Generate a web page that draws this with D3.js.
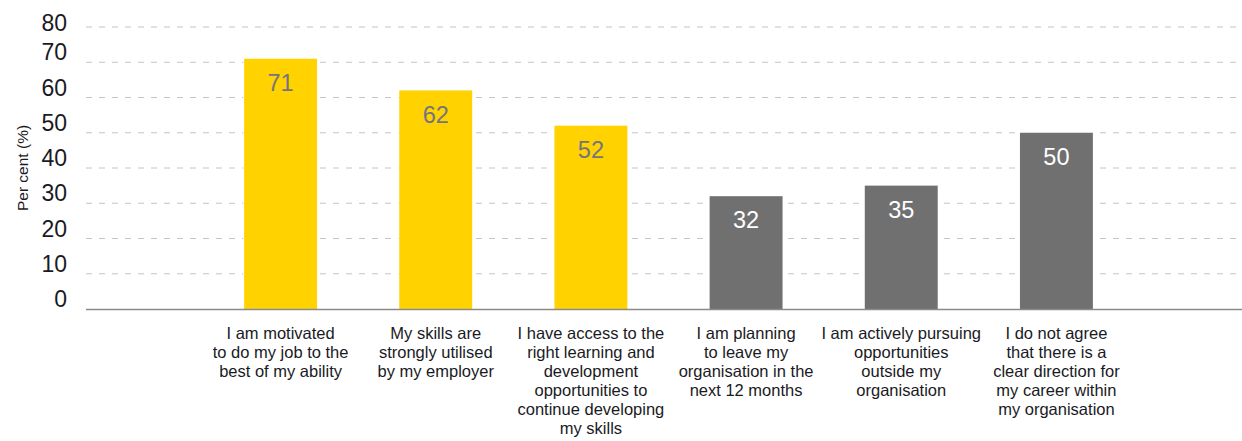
<!DOCTYPE html>
<html>
<head>
<meta charset="utf-8">
<script src="https://cdn.jsdelivr.net/npm/d3@7"></script>
<style>
  html, body { margin: 0; padding: 0; background: #fff; }
  svg { display: block; font-family: "Liberation Sans", Arial, sans-serif; }
</style>
</head>
<body>
<svg id="chart" width="1242" height="441"></svg>
<script>
// Survey statements (x axis), wrapped into display lines
const categories = [
  ["I am motivated", "to do my job to the", "best of my ability"],
  ["My skills are", "strongly utilised", "by my employer"],
  ["I have access to the", "right learning and", "development", "opportunities to", "continue developing", "my skills"],
  ["I am planning", "to leave my", "organisation in the", "next 12 months"],
  ["I am actively pursuing", "opportunities", "outside my", "organisation"],
  ["I do not agree", "that there is a", "clear direction for", "my career within", "my organisation"]
];
// Share of respondents agreeing, per cent
const values = [71, 62, 52, 32, 35, 50];
// Positive statements in yellow, negative in grey
const groups = ["positive", "positive", "positive", "negative", "negative", "negative"];
const yTicks = [0, 10, 20, 30, 40, 50, 60, 70, 80];
const yTitle = "Per cent (%)";

const svg = d3.select("#chart");
const W = 1242;
const left = 86, gridRight = 1236;
const yTop = 27, yBase = 309;

const fill = d3.scaleOrdinal().domain(["positive", "negative"]).range(["#FFD200", "#707071"]);
const labelFill = d3.scaleOrdinal().domain(["positive", "negative"]).range(["#747480", "#ffffff"]);

const y = d3.scaleLinear().domain([0, 80]).range([yBase, yTop]);
const x = d3.scaleBand()
  .domain(d3.range(categories.length))
  .range([203, 1134])
  .paddingInner(0.53)
  .paddingOuter(0.265);

// Dashed gridlines
svg.append("g")
  .selectAll("line")
  .data(yTicks.filter(t => t > 0))
  .join("line")
  .attr("x1", left).attr("x2", gridRight)
  .attr("y1", d => y(d)).attr("y2", d => y(d))
  .attr("stroke", "#c4c4c4")
  .attr("stroke-width", 1)
  .attr("stroke-dasharray", "6,7");

// Y tick labels, sitting just above their gridlines
svg.append("g")
  .selectAll("text")
  .data(yTicks)
  .join("text")
  .attr("x", 67)
  .attr("y", d => Math.max(y(d) - 10, 23))
  .attr("dy", "0.35em")
  .attr("text-anchor", "end")
  .attr("font-size", 23)
  .attr("fill", "#1a1a24")
  .text(d => d);

// Y axis title
svg.append("text")
  .attr("transform", `translate(23,${(yTop + yBase) / 2 + 0}) rotate(-90)`)
  .attr("text-anchor", "middle")
  .attr("dy", "0.35em")
  .attr("font-size", 15.5)
  .attr("fill", "#1a1a24")
  .text(yTitle);

// Bars
svg.append("g")
  .selectAll("rect")
  .data(values)
  .join("rect")
  .attr("x", (d, i) => x(i))
  .attr("width", x.bandwidth())
  .attr("y", d => y(d))
  .attr("height", d => yBase - y(d))
  .attr("fill", (d, i) => fill(groups[i]))
  .attr("stroke", "#fff")
  .attr("stroke-width", 1.5)
  .attr("paint-order", "stroke");

// Value labels inside the top of each bar
svg.append("g")
  .selectAll("text")
  .data(values)
  .join("text")
  .attr("x", (d, i) => x(i) + x.bandwidth() / 2)
  .attr("y", d => y(d) + 24)
  .attr("dy", "0.35em")
  .attr("text-anchor", "middle")
  .attr("font-size", 23.5)
  .attr("fill", (d, i) => labelFill(groups[i]))
  .text(d => d);

// Baseline
svg.append("line")
  .attr("x1", left).attr("x2", W)
  .attr("y1", yBase + 0.5).attr("y2", yBase + 0.5)
  .attr("stroke", "#8a8a8a")
  .attr("stroke-width", 1.5);

// Category labels
const cat = svg.append("g")
  .selectAll("text")
  .data(categories)
  .join("text")
  .attr("x", (d, i) => x(i) + x.bandwidth() / 2)
  .attr("y", 339)
  .attr("text-anchor", "middle")
  .attr("font-size", 16.5)
  .attr("fill", "#1a1a24");
cat.selectAll("tspan")
  .data(d => d)
  .join("tspan")
  .attr("x", function () { return d3.select(this.parentNode).attr("x"); })
  .attr("dy", (d, i) => i === 0 ? 0 : 19)
  .text(d => d);
</script>
</body>
</html>
